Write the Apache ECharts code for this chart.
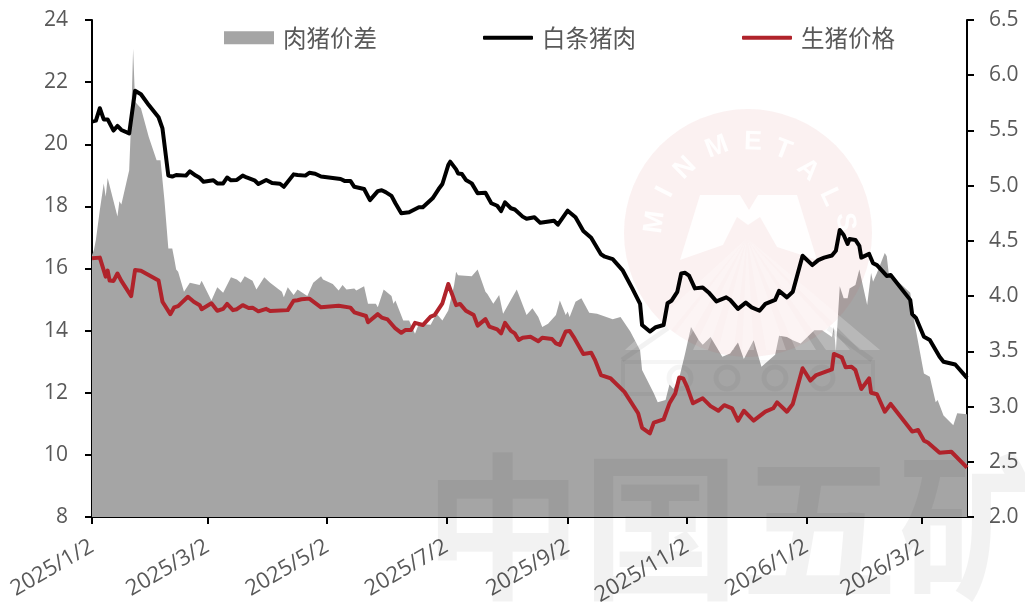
<!DOCTYPE html>
<html><head><meta charset="utf-8">
<style>html,body{margin:0;padding:0;background:#fff}#c{width:1025px;height:606px}</style>
<script src="https://cdn.jsdelivr.net/npm/echarts@6/dist/echarts.min.js"></script>
</head><body><div id="c"></div>
<script>
const startDate = '2025/1/2';
const endDayOffset = 447;
const xTickLabels = ['2025/1/2','2025/3/2','2025/5/2','2025/7/2','2025/9/2','2025/11/2','2026/1/2','2026/3/2'];
const leftTickRange = [8, 24, 2];
const rightTickRange = [2, 6.5, 0.5];
const seriesNames = ['肉猪价差','白条猪肉','生猪价格'];

// days since 2025/1/2 and readings
const spreadDays = [0,1,2,4,6,7,8,13,14,15,19,20,21,22,25,29,33,35,37,39,41,42,43,44,47,50,55,56,61,64,67,71,74,76,78,82,84,88,91,97,98,100,103,105,106,110,113,117,118,123,126,128,130,134,135,139,141,145,146,149,153,154,155,159,162,165,167,173,176,179,182,185,186,187,194,197,201,202,205,208,210,217,222,225,228,230,233,237,239,242,243,244,247,250,254,258,266,270,275,280,281,287,289,293,295,297,300,303,306,310,312,316,322,326,330,333,338,342,349,351,355,358,362,369,373,378,379,380,381,382,384,386,387,390,392,396,398,399,401,405,406,407,418,420,425,428,431,432,435,440,442,447];
const spreadValues = [4.37,4.42,4.51,4.78,5.02,4.90,5.07,4.72,4.86,4.83,5.14,5.59,6.24,5.76,5.70,5.44,5.23,5.23,4.87,4.43,4.43,4.34,4.24,4.22,4.04,4.12,4.10,4.14,3.96,4.08,4.03,4.17,4.15,4.12,4.18,4.14,4.06,4.17,4.12,4.04,3.99,4.08,4.01,4.06,4.05,4.00,4.12,4.18,4.15,4.11,4.05,4.10,4.06,4.07,4.05,4.09,3.93,3.93,3.90,4.06,4.00,3.93,3.96,3.78,3.78,3.66,3.75,3.74,3.84,3.78,3.87,4.10,4.22,4.19,4.18,4.24,4.04,4.02,3.93,4.01,3.84,4.06,3.83,3.89,3.81,3.72,3.75,3.83,3.96,3.83,3.86,3.81,3.95,3.98,3.85,3.84,3.79,3.81,3.68,3.51,3.33,3.12,3.04,3.06,3.20,3.16,3.26,3.48,3.72,3.60,3.56,3.63,3.45,3.48,3.58,3.43,3.60,3.36,3.47,3.64,3.63,3.60,3.57,3.69,3.69,3.63,3.72,3.50,3.80,4.09,3.98,3.98,4.07,4.10,4.24,3.92,4.21,4.13,4.21,4.39,4.36,4.21,4.03,3.78,3.30,3.27,3.04,3.06,2.92,2.83,2.94,2.93];

const porkDays = [0,2,4,6,8,11,12,13,15,19,20,22,25,29,34,36,39,41,43,48,50,53,55,57,62,64,67,69,71,74,77,79,83,85,89,92,96,98,103,105,106,109,111,114,117,127,129,132,134,139,142,146,148,150,153,155,158,162,167,169,174,177,179,182,183,186,187,189,191,194,197,201,204,207,209,211,214,216,220,222,226,229,236,238,243,247,251,255,260,262,266,271,276,280,281,285,288,292,294,296,299,301,303,305,308,312,315,319,324,326,330,334,337,341,344,349,351,355,358,363,368,371,374,378,380,382,384,386,387,390,392,393,397,399,401,406,408,418,419,421,425,428,433,435,441,447];
const porkValues = [20.73,20.76,21.16,20.80,20.80,20.44,20.43,20.59,20.46,20.35,20.37,21.72,21.61,21.26,20.87,20.51,18.99,18.96,19.01,18.99,19.13,18.99,18.92,18.79,18.84,18.74,18.74,18.93,18.84,18.85,18.99,18.93,18.84,18.72,18.85,18.75,18.73,18.63,19.03,19.01,19.07,18.99,19.08,19.05,18.96,18.88,18.82,18.82,18.63,18.56,18.20,18.49,18.52,18.46,18.34,18.10,17.78,17.81,17.97,17.97,18.26,18.55,18.72,19.33,19.44,19.19,19.06,19.04,18.85,18.74,18.42,18.44,18.10,18.02,17.85,18.13,17.94,17.90,17.67,17.60,17.65,17.47,17.54,17.41,17.86,17.65,17.21,16.99,16.46,16.38,16.30,15.95,15.36,14.86,14.18,13.97,14.11,14.18,14.88,14.96,15.25,15.84,15.86,15.77,15.36,15.39,15.23,14.94,15.07,14.99,14.70,14.90,14.75,14.64,14.86,14.99,15.28,15.07,15.25,16.41,16.11,16.27,16.35,16.42,16.57,17.24,17.08,16.79,16.95,16.92,16.73,16.35,16.47,16.17,16.11,15.76,15.79,14.99,14.53,14.40,13.80,13.70,13.16,13.00,12.91,12.48];

const hogDays = [0,4,7,8,9,11,13,15,20,22,25,34,36,40,41,42,44,49,52,55,56,61,64,67,69,72,74,77,80,82,85,89,91,100,103,105,107,111,117,126,132,134,140,141,146,148,151,155,158,160,163,165,169,173,175,179,182,186,188,191,195,197,201,203,207,209,211,214,216,218,220,224,228,230,235,237,239,242,244,246,251,255,257,260,265,272,279,281,285,287,292,295,298,300,302,304,307,312,316,320,323,327,330,333,338,344,348,350,355,358,363,367,370,378,379,383,385,388,390,393,397,398,401,405,408,419,422,425,427,433,439,447];
const hogValues = [16.33,16.35,15.74,15.93,15.61,15.60,15.84,15.60,15.11,15.95,15.93,15.61,14.93,14.53,14.52,14.75,14.79,15.09,14.93,14.82,14.69,14.88,14.64,14.70,14.86,14.66,14.69,14.82,14.73,14.74,14.62,14.70,14.63,14.66,14.96,14.98,15.01,15.03,14.75,14.80,14.74,14.59,14.47,14.27,14.53,14.42,14.36,14.07,13.93,14.02,14.02,14.25,14.18,14.45,14.50,14.88,15.50,14.82,14.86,14.64,14.50,14.16,14.37,14.13,14.04,13.91,14.25,13.99,13.91,13.70,13.77,13.80,13.66,13.77,13.73,13.59,13.54,13.97,13.99,13.80,13.25,13.29,13.05,12.57,12.46,12.03,11.34,10.87,10.69,11.04,11.14,11.66,11.98,12.49,12.46,12.19,11.66,11.82,11.57,11.42,11.60,11.50,11.10,11.42,11.10,11.39,11.50,11.69,11.39,11.64,12.79,12.39,12.57,12.75,13.25,13.14,12.82,12.84,12.73,12.12,12.46,12.00,11.95,11.39,11.64,10.75,10.80,10.46,10.40,10.07,10.10,9.59];

const DAY = 86400000;
const dayOf = s => {
  const p = s.split('/').map(Number), q = startDate.split('/').map(Number);
  return Math.round((Date.UTC(p[0],p[1]-1,p[2]) - Date.UTC(q[0],q[1]-1,q[2])) / DAY);
};
const pairs = (days, vals) => days.map((d, i) => [d, vals[i]]);
const tickDays = xTickLabels.map(dayOf);

const labelColor = '#595959';
const numFont = '"Open Sans"';
const cjkFont = '"Noto Sans CJK SC"';

// decorative watermark
const wmZ = 5;
const wm = [];
wm.push({type:'circle', z:wmZ, shape:{cx:748,cy:233,r:124}, style:{fill:'rgba(205,50,50,0.07)'}});
const logoCx = 750, logoCy = 235;
[['M',655,222],['I',665,192],['N',685,168],['M',717,147],['E',753,142],['T',783,150],['A',808,170],['L',830,197],['S',845,222]].forEach(l => {
  wm.push({type:'text', z:wmZ, x:l[1], y:l[2],
    rotation: -Math.atan2(l[1]-logoCx, logoCy-l[2]),
    style:{text:l[0], font:'bold 27px "Liberation Sans"', fill:'rgba(255,255,255,0.88)', textAlign:'center', textVerticalAlign:'middle'}});
});
[[625,655],[662,682],[693,708],[718,734],[742,754],[766,786],[796,816],[826,850],[860,880]].forEach(r => {
  wm.push({type:'polygon', z:wmZ, shape:{points:[[747,238],[r[0],350],[r[1],350]]}, style:{fill:'rgba(255,255,255,0.22)'}});
});
wm.push({type:'polygon', z:wmZ, shape:{points:[[680,260],[700,195],[740,195],[749,210],[758,195],[797,195],[817,260],[777,247],[760,217],[748,225],[737,217],[723,245]]}, style:{fill:'rgba(255,255,255,0.88)'}});
wm.push({type:'polyline', z:wmZ, shape:{points:[[622,360],[668,328]]}, style:{stroke:'rgba(0,0,0,0.05)', lineWidth:5, fill:'none'}});
wm.push({type:'polyline', z:wmZ, shape:{points:[[828,328],[872,360]]}, style:{stroke:'rgba(0,0,0,0.05)', lineWidth:5, fill:'none'}});
wm.push({type:'rect', z:wmZ, shape:{x:623,y:362,width:250,height:32}, style:{stroke:'rgba(0,0,0,0.04)', lineWidth:4, fill:'none'}});
[[680,378],[727,378],[775,378],[822,378]].forEach(c => {
  wm.push({type:'circle', z:wmZ, shape:{cx:c[0],cy:c[1],r:11}, style:{stroke:'rgba(0,0,0,0.04)', lineWidth:5, fill:'none'}});
});
wm.push({type:'text', z:wmZ, x:424, y:448, style:{text:'中国五矿', font:'bold 158px '+cjkFont, fill:'rgba(0,0,0,0.05)', textAlign:'left', textVerticalAlign:'top'}});

const axisLine = {show:true, onZero:false, lineStyle:{color:'#000', width:2}};
const legendText = {color:labelColor, fontFamily:cjkFont, fontSize:23.5, padding:[0,0,0,4]};
const chart = echarts.init(document.getElementById('c'), null, {renderer:'canvas'});
chart.setOption({
  animation:false,
  backgroundColor:'#fff',
  grid:{left:92, right:58, top:20, bottom:89, containLabel:false, outerBoundsMode:'none'},
  legend:[
    {left:224, top:26, padding:0, itemWidth:50, itemHeight:13, textStyle:legendText, data:[{name:seriesNames[0], icon:'rect'}]},
    {left:483, top:26, padding:0, itemWidth:50, itemHeight:4, textStyle:legendText, data:[{name:seriesNames[1], icon:'roundRect'}]},
    {left:742, top:26, padding:0, itemWidth:50, itemHeight:4, textStyle:legendText, data:[{name:seriesNames[2], icon:'roundRect'}]}
  ],
  graphic:{elements:wm},
  xAxis:{
    type:'value', min:0, max:endDayOffset,
    axisLine:axisLine,
    axisTick:{show:true, length:7, inside:false, lineStyle:{color:'#000', width:2}, customValues:tickDays},
    axisLabel:{
      show:true, rotate:30, margin:28, color:labelColor, fontFamily:numFont, fontSize:22,
      customValues:tickDays, hideOverlap:false,
      formatter:v => xTickLabels[tickDays.indexOf(v)]
    },
    splitLine:{show:false}
  },
  yAxis:[
    {type:'value', position:'left', min:leftTickRange[0], max:leftTickRange[1], interval:leftTickRange[2],
     axisLine:axisLine, axisTick:{show:true,length:7,lineStyle:{color:'#000',width:2}},
     axisLabel:{color:labelColor,fontFamily:numFont,fontSize:21,margin:24}, splitLine:{show:false}},
    {type:'value', position:'right', min:rightTickRange[0], max:rightTickRange[1], interval:rightTickRange[2],
     axisLine:axisLine, axisTick:{show:true,length:7,lineStyle:{color:'#000',width:2}},
     axisLabel:{color:labelColor,fontFamily:numFont,fontSize:21,margin:22,formatter:v=>v.toFixed(1)}, splitLine:{show:false}}
  ],
  series:[
    {name:seriesNames[0], type:'line', yAxisIndex:1, z:1, showSymbol:false, symbol:'none',
     data:pairs(spreadDays,spreadValues), lineStyle:{width:0,color:'#a5a5a5'}, itemStyle:{color:'#a5a5a5'},
     areaStyle:{color:'#a5a5a5',opacity:1,origin:'start'}},
    {name:seriesNames[1], type:'line', yAxisIndex:0, z:10, showSymbol:false, symbol:'none',
     data:pairs(porkDays,porkValues), lineStyle:{width:4,color:'#000',join:'round'}, itemStyle:{color:'#000'}},
    {name:seriesNames[2], type:'line', yAxisIndex:0, z:10, showSymbol:false, symbol:'none',
     data:pairs(hogDays,hogValues), lineStyle:{width:4,color:'#b0232b',join:'round'}, itemStyle:{color:'#b0232b'}}
  ]
});
</script></body></html>
